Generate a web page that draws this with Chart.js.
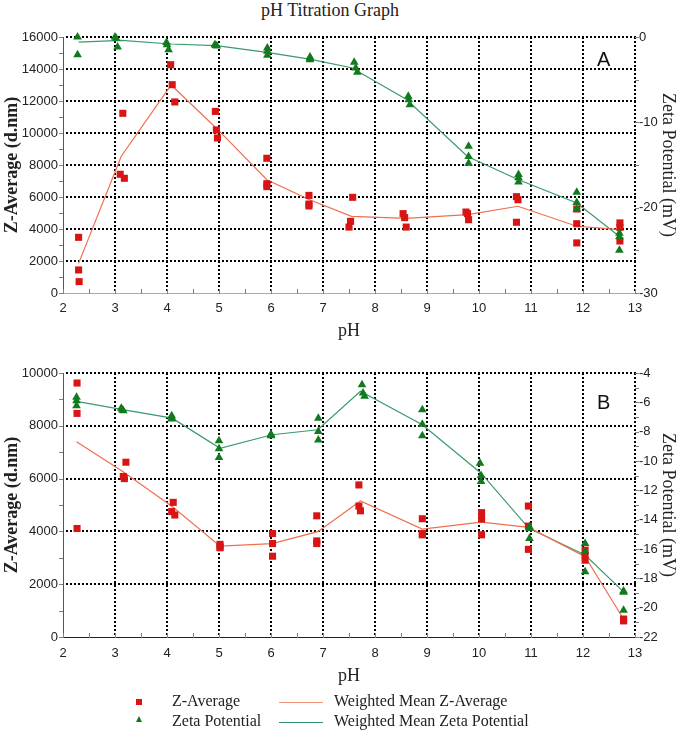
<!DOCTYPE html>
<html>
<head>
<meta charset="utf-8">
<title>pH Titration Graph</title>
<script src="https://cdn.jsdelivr.net/npm/chart.js@4.4.1/dist/chart.umd.min.js"></script>
<style>
  body { margin: 0; background: #fff; }
  #page { position: relative; width: 679px; height: 731px; overflow: hidden; font-family: "Liberation Serif", "Times New Roman", serif; color: #222; }
  #title { position: absolute; left: 0; width: 660px; top: 0px; text-align: center; font-size: 18px; line-height: 20px; }
  canvas { position: absolute; left: 0; }
  #chartA { top: 0; }
  #chartB { top: 335px; }
  .panel { position: absolute; font-family: "Liberation Sans", Arial, sans-serif; font-size: 20px; color: #111; line-height: 20px; }
  .lg { position: absolute; font-size: 16px; line-height: 18px; white-space: nowrap; }
  .sq { position: absolute; width: 6px; height: 6px; background: #d81414; }
  .tri { position: absolute; width: 0; height: 0; border-left: 3.5px solid transparent; border-right: 3.5px solid transparent; border-bottom: 6px solid #127a1e; }
  .ln { position: absolute; width: 44px; height: 1px; }
</style>
</head>
<body>
<div id="page">
  <div id="title">pH Titration Graph</div>
  <canvas id="chartA" width="679" height="345"></canvas>
  <canvas id="chartB" width="679" height="360"></canvas>
  <div class="panel" style="left:597px; top:49px;">A</div>
  <div class="panel" style="left:597px; top:392px;">B</div>

  <div class="sq" style="left:136px; top:699px;"></div>
  <div class="lg" style="left:172px; top:692px;">Z-Average</div>
  <div class="ln" style="left:279px; top:702px; background:#f2937a;"></div>
  <div class="lg" style="left:334px; top:692px;">Weighted Mean Z-Average</div>

  <div class="tri" style="left:136px; top:716px;"></div>
  <div class="lg" style="left:172px; top:712px;">Zeta Potential</div>
  <div class="ln" style="left:279px; top:722px; background:#2f8f6a;"></div>
  <div class="lg" style="left:334px; top:712px;">Weighted Mean Zeta Potential</div>
</div>
<script>
// Panel A - raw measurements
const phZA = [2.30, 2.30, 2.31, 3.15, 3.10, 3.18, 4.07, 4.10, 4.15, 4.93, 4.95, 4.97, 5.92, 5.92, 5.92, 6.73, 6.73, 6.73,
              7.57, 7.53, 7.50, 8.54, 8.57, 8.60, 9.75, 9.78, 9.80, 10.72, 10.75, 10.72, 11.88, 11.88, 11.88, 12.71, 12.71, 12.71];
const zAvgA = [3480, 1440, 710, 11230, 7420, 7170, 14270, 13020, 11940, 11350, 10190, 9690, 8420, 6830, 6650, 6100, 5560, 5440,
               5980, 4480, 4120, 4960, 4710, 4120, 5060, 4960, 4580, 6020, 5830, 4420, 5250, 4330, 3130, 4380, 4100, 3250];
const phZetaA = [2.28, 2.28, 3.00, 3.02, 3.05, 3.99, 4.00, 4.03, 4.92, 4.94, 4.96, 5.93, 5.93, 5.93, 6.75, 6.75, 6.75,
                 7.60, 7.63, 7.66, 8.64, 8.65, 8.67, 9.80, 9.80, 9.80, 10.76, 10.76, 10.76, 11.88, 11.88, 11.88, 12.70, 12.70, 12.70];
const zetaA = [0.0, -2.07, 0.0, -0.15, -1.17, -0.63, -0.9, -1.48, -0.9, -1.0, -1.05, -1.29, -1.68, -2.15, -2.34, -2.66, -2.5,
               -2.97, -3.63, -4.14, -6.95, -7.34, -7.93, -12.8, -14.0, -14.8, -16.1, -16.5, -17.0, -18.2, -19.4, -20.2, -23.0, -23.4, -25.0];
// Panel A - weighted means
const phMeanA = [2.30, 3.12, 4.08, 4.95, 5.92, 6.74, 7.55, 8.60, 9.78, 10.75, 11.88, 12.71];
const meanZA = [1850, 8550, 13000, 10300, 7080, 5830, 4790, 4670, 4900, 5420, 4170, 3960];
const meanZetaA = [-0.6, -0.4, -0.82, -1.0, -1.8, -2.6, -3.6, -7.3, -14.0, -16.7, -19.45, -23.4];

// Panel B - raw measurements
const phZB = [2.27, 2.27, 2.27, 3.21, 3.16, 3.18, 4.12, 4.09, 4.15, 5.02, 5.02, 5.02, 6.03, 6.03, 6.03, 6.88, 6.88, 6.88,
              7.69, 7.69, 7.72, 8.91, 8.91, 8.91, 10.05, 10.05, 10.05, 10.95, 10.95, 10.95, 12.04, 12.04, 12.04, 12.78, 12.78, 12.78];
const zAvgB = [9620, 8470, 4110, 6620, 6080, 6000, 5100, 4750, 4620, 3510, 3420, 3380, 3920, 3540, 3060, 4590, 3640, 3540,
               5760, 4960, 4780, 4480, 3920, 3870, 4710, 4470, 3870, 4960, 4200, 3320, 3290, 3100, 2910, 680, 610, 650];
const phZetaB = [2.26, 2.26, 2.26, 3.12, 3.14, 3.16, 4.09, 4.09, 4.09, 5.00, 5.00, 5.00, 6.00, 6.00, 6.00, 6.91, 6.91, 6.91,
                 7.75, 7.77, 7.80, 8.91, 8.91, 8.91, 10.02, 10.04, 10.04, 10.97, 10.97, 10.97, 12.04, 12.04, 12.04, 12.78, 12.78, 12.78];
const zetaB = [-5.66, -5.89, -6.23, -6.41, -6.50, -6.57, -6.92, -7.05, -7.14, -8.62, -9.17, -9.76, -8.17, -8.28, -8.22, -7.08, -7.99, -8.56,
               -4.80, -5.37, -5.59, -6.51, -7.49, -8.28, -10.15, -10.99, -11.40, -14.48, -15.28, -14.60, -15.62, -16.19, -17.55, -18.87, -20.17, -18.95];
// Panel B - weighted means
const phMeanB = [2.26, 3.15, 4.10, 5.02, 6.02, 6.90, 7.72, 8.91, 10.04, 10.96, 12.04, 12.78];
const meanZB = [7400, 6270, 4940, 3440, 3540, 3990, 5150, 4090, 4350, 4150, 3040, 680];
const meanZetaB = [-5.94, -6.5, -7.08, -9.13, -8.21, -7.87, -5.25, -7.53, -10.83, -14.59, -16.41, -18.92];

const RED = '#d81414', GREEN = '#127a1e', ORANGE = '#ef6f4f', TEAL = '#3a9a6c';
const tickFont = { family: 'Liberation Sans', size: 13 };

const pts = (xs, ys) => xs.map((x, i) => ({ x: x, y: ys[i] }));

// dotted grid at the major ticks + small tick marks, placed from the chart's own scales
const dottedGrid = {
    id: 'dottedGrid',
    beforeDatasetsDraw(chart) {
        const ctx = chart.ctx;
        const a = chart.chartArea;
        const sx = chart.scales.x, sy = chart.scales.y, sr = chart.scales.y1;
        ctx.save();
        ctx.fillStyle = '#000';
        sx.ticks.forEach(t => {
            if (Number.isInteger(t.value) && t.value > sx.min) {
                const p = Math.round(sx.getPixelForValue(t.value));
                for (let yy = a.top; yy < a.bottom; yy += 4) ctx.fillRect(p - 1, yy, 2, 2);
            }
        });
        sy.ticks.forEach(t => {
            if (t.value % 2000 === 0 && t.value > sy.min) {
                const p = Math.round(sy.getPixelForValue(t.value));
                for (let xx = a.left + 3; xx < a.right; xx += 4) ctx.fillRect(xx, p - 1, 2, 2);
            }
        });
        ctx.fillStyle = '#808080';
        sx.ticks.forEach(t => { const p = Math.round(sx.getPixelForValue(t.value)); ctx.fillRect(p, a.bottom - 4, 1, 5); });
        sy.ticks.forEach(t => { const p = Math.round(sy.getPixelForValue(t.value)); ctx.fillRect(a.left - 4, p, 4, 1); });
        sr.ticks.forEach(t => { const p = Math.round(sr.getPixelForValue(t.value)); ctx.fillRect(a.right, p, 4, 1); });
        ctx.restore();
    }
};

function makeChart(id, o) {
    return new Chart(document.getElementById(id), {
        type: 'scatter',
        data: {
            datasets: [
                { label: 'Zeta Potential', data: pts(o.phZeta, o.zeta), yAxisID: 'y1', pointStyle: 'triangle',
                  pointRadius: 5, backgroundColor: GREEN, borderColor: GREEN, borderWidth: 0, clip: false, order: 0 },
                { label: 'Z-Average', data: pts(o.phZ, o.z), yAxisID: 'y', pointStyle: 'rect',
                  pointRadius: 5, backgroundColor: RED, borderColor: RED, borderWidth: 0, clip: false, order: 1 },
                { label: 'Weighted Mean Z-Average', data: pts(o.phMean, o.meanZ), yAxisID: 'y', showLine: true,
                  pointRadius: 0, borderColor: ORANGE, borderWidth: 1.2, order: 2 },
                { label: 'Weighted Mean Zeta Potential', data: pts(o.phMean, o.meanZeta), yAxisID: 'y1', showLine: true,
                  pointRadius: 0, borderColor: TEAL, borderWidth: 1.2, order: 2 }
            ]
        },
        plugins: [dottedGrid],
        options: {
            responsive: false,
            animation: false,
            layout: { padding: { top: o.top, left: 0, right: 0, bottom: 0 } },
            plugins: { legend: { display: false }, tooltip: { enabled: false } },
            scales: {
                x: {
                    type: 'linear', min: 2, max: 13,
                    afterFit: s => { s.height = o.xh; },
                    ticks: { stepSize: 0.5, autoSkip: false, maxRotation: 0, font: tickFont, color: '#222', padding: o.xPad,
                             callback: v => Number.isInteger(v) ? v : '' },
                    grid: { drawOnChartArea: false, drawTicks: false },
                    border: { color: o.xBorder, width: 1 },
                    title: { display: true, text: 'pH', color: '#222', padding: { top: 0, bottom: o.phPad },
                             font: { family: 'Liberation Serif', size: 18 } }
                },
                y: {
                    position: 'left', min: 0, max: o.zMax,
                    afterFit: s => { s.width = 63; },
                    ticks: { stepSize: 1000, autoSkip: false, font: tickFont, color: '#222', padding: 5,
                             callback: v => v % 2000 === 0 ? v : '' },
                    grid: { drawOnChartArea: false, drawTicks: false },
                    border: { color: '#555', width: 1 },
                    title: { display: true, text: 'Z-Average (d.nm)', color: '#222', padding: { top: 2, bottom: 0 },
                             font: { family: 'Liberation Serif', size: 18, weight: 'bold' } }
                },
                y1: {
                    position: 'right', min: o.zetaMin, max: o.zetaMax,
                    afterFit: s => { s.width = 44; },
                    ticks: { stepSize: o.zetaStep, autoSkip: false, font: tickFont, color: '#222', padding: 4,
                             callback: v => v % o.zetaLabel === 0 ? v : '' },
                    grid: { drawOnChartArea: false, drawTicks: false },
                    border: { display: false },
                    title: { display: true, text: 'Zeta Potential (mV)', color: '#222', padding: { top: 0, bottom: 0 },
                             font: { family: 'Liberation Serif', size: 18 } }
                }
            }
        }
    });
}

const chartA = makeChart('chartA', {
    phZ: phZA, z: zAvgA, phZeta: phZetaA, zeta: zetaA, phMean: phMeanA, meanZ: meanZA, meanZeta: meanZetaA,
    top: 37, xh: 52, xPad: 8, phPad: 3, zMax: 16000, zetaMin: -30, zetaMax: 0, zetaStep: 5, zetaLabel: 10, xBorder: '#aaa'
});

const chartB = makeChart('chartB', {
    phZ: phZB, z: zAvgB, phZeta: phZetaB, zeta: zetaB, phMean: phMeanB, meanZ: meanZB, meanZeta: meanZetaB,
    top: 38, xh: 58, xPad: 9, phPad: 8, zMax: 10000, zetaMin: -22, zetaMax: -4, zetaStep: 1, zetaLabel: 2, xBorder: '#222'
});
</script>
</body>
</html>
